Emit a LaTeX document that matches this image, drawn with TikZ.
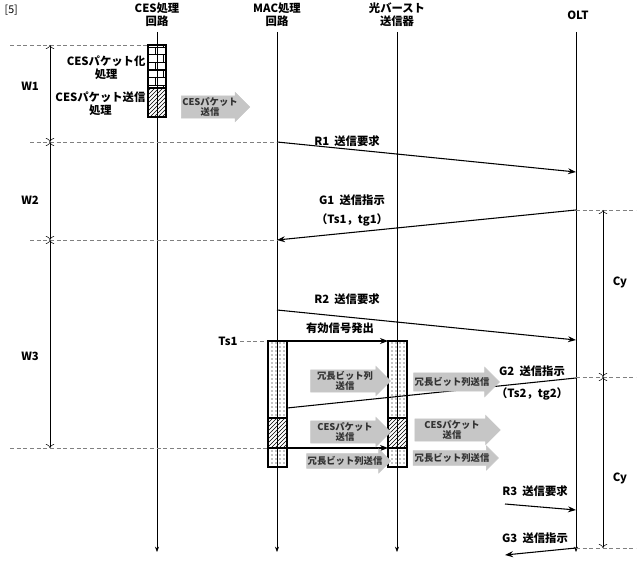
\documentclass[tikz,border=0pt]{standalone}
\usepackage{fontspec}
\setmainfont{Noto Sans CJK JP}
\usetikzlibrary{patterns,shapes.arrows,arrows.meta}
\begin{document}
\begin{tikzpicture}[x=0.75pt,y=-0.75pt,font=\bfseries\fontsize{8.5}{10}\selectfont,
 lane/.style={thin,-{Stealth[length=4pt]}},
 dsh/.style={densely dashed,gray,thin},
 msg/.style={thick,-{Stealth[length=6pt]}},
 dim/.style={thin,{To[length=3pt]}-{To[length=3pt]}},
 barr/.style={single arrow,fill=gray!45,draw=gray!45,minimum height=#1,minimum width=22pt,single arrow head extend=2.5pt,inner sep=0.5pt,align=center,font=\bfseries\fontsize{7}{8}\selectfont,text=black!80},
 lbl/.style={inner sep=1pt,align=center}]
\useasboundingbox (0,0) rectangle (640,567);
\node[anchor=north west,font=\fontsize{8}{9}\selectfont] (fig) at (0,0) {[5]};
% headers
\node[lbl] (h1) at (157,15) {CES処理\\回路};
\node[lbl] (h2) at (277,15) {MAC処理\\回路};
\node[lbl] (h3) at (397,15) {光バースト\\送信器};
\node[lbl] (h4) at (578,15) {OLT};
\coordinate (c1t) at (157,32); \coordinate (c1b) at (157,552);
\coordinate (c2t) at (277,32); \coordinate (c2b) at (277,552);
\coordinate (c3t) at (397,32); \coordinate (c3b) at (397,552);
\coordinate (c4t) at (576,32); \coordinate (c4b) at (576,552);
\draw[lane] (c1t)--(c1b); \draw[lane] (c2t)--(c2b); \draw[lane] (c3t)--(c3b); \draw[lane] (c4t)--(c4b);
% dashed lines
\draw[dsh] (10,45)--(148,45);
\draw[dsh] (30,142)--(277,142);
\draw[dsh] (30,240)--(277,240);
\draw[dsh] (10,448)--(268,448);
\draw[dsh] (240,341)--(268,341);
\draw[dsh] (576,210)--(636,210);
\draw[dsh] (576,377)--(636,377);
\draw[dsh] (576,548)--(636,548);
% W dims
\coordinate (w0) at (50,45); \coordinate (w1) at (50,142); \coordinate (w2) at (50,240); \coordinate (w3) at (50,448);
\draw[dim] (w0)--(w1); \draw[dim] (w1)--(w2); \draw[dim] (w2)--(w3);
\node (W1) at (30,86) {W1}; \node (W2) at (30,200) {W2}; \node (W3) at (30,356) {W3};
\coordinate (y0) at (603,210); \coordinate (y1) at (603,377); \coordinate (y2) at (603,548);
\draw[dim] (y0)--(y1); \draw[dim] (y1)--(y2);
\node (Cy1) at (620,282) {Cy}; \node (Cy2) at (620,478) {Cy};
% CES box
\draw[thick,pattern=bricks] (148,45) rectangle (166,88);
\draw[thick,pattern=north east lines] (148,88) rectangle (166,117);
\node[lbl,anchor=east] (t1) at (147,68) {CESパケット化\\処理};
\node[lbl,anchor=east] (t2) at (147,104) {CESパケット送信\\処理};
\node[barr=50pt] (a0) at (210,107) {CESパケット\\送信};
% messages
\coordinate (r1a) at (277,142); \coordinate (r1b) at (576,172);
\draw[msg] (r1a)--(r1b); \node (R1) at (347,141) {R1\ \ 送信要求};
\coordinate (g1a) at (576,210); \coordinate (g1b) at (277,240);
\draw[msg] (g1a)--(g1b); \node (G1) at (352,200) {G1\ \ 送信指示}; \node (G1b) at (352,220) {（Ts1，tg1）};
\coordinate (r2a) at (277,310); \coordinate (r2b) at (576,340);
\draw[msg] (r2a)--(r2b); \node (R2) at (347,299) {R2\ \ 送信要求};
\node (Ts1) at (228,341) {Ts1};
\coordinate (g2a) at (576,378); \coordinate (g2b) at (287,408);
\draw[thick] (g2a)--(g2b);
% boxes
\foreach \x in {268,388}{
 \draw[thick,pattern=dots] (\x,341) rectangle (\x+19,418);
 \draw[thick,pattern=north east lines] (\x,418) rectangle (\x+19,448);
 \draw[thick,pattern=dots] (\x,448) rectangle (\x+19,467);}
\coordinate (e1) at (287,341); \coordinate (e2) at (388,341);
\draw[msg] (e1)--(e2); \node (yk) at (340,328) {有効信号発出};
\coordinate (e3) at (287,448); \coordinate (e4) at (388,448);
\draw[msg] (e3)--(e4);
\node[barr=60pt] (a1) at (345,381) {冗長ビット列\\送信};
\node[barr=60pt] (a2) at (345,432) {CESパケット\\送信};
\node[barr=60pt,minimum width=18pt] (a3) at (345,461) {冗長ビット列送信};
\node[barr=64pt] (a4) at (452,382) {冗長ビット列送信};
\node[barr=64pt] (a5) at (452,430) {CESパケット\\送信};
\node[barr=64pt,minimum width=18pt] (a6) at (452,458) {冗長ビット列送信};
\node[fill=white,inner sep=1pt] (G2) at (532,371) {G2\ \ 送信指示};
\node (G2b) at (532,394) {（Ts2，tg2）};
% R3 G3
\coordinate (r3a) at (505,504); \coordinate (r3b) at (576,510);
\draw[msg] (r3a)--(r3b); \node (R3) at (535,491) {R3\ \ 送信要求};
\coordinate (g3a) at (576,548); \coordinate (g3b) at (505,555);
\draw[msg] (g3a)--(g3b); \node (G3) at (535,538) {G3\ \ 送信指示};
\end{tikzpicture}
\end{document}
